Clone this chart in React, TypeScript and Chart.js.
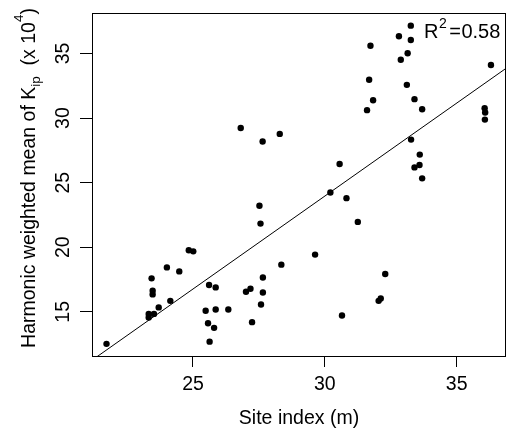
import React, { useEffect, useRef } from "react";
import { Chart, registerables } from "chart.js";

Chart.register(...registerables);

const siteIndex = [
  26.81, 27.64, 28.29, 33.26, 32.81, 33.26, 31.73, 33.14, 32.88, 36.3,
  31.68, 33.11, 31.83, 33.4, 31.6, 33.69, 36.06, 36.08, 36.07, 33.27,
  33.6, 33.59, 33.4, 33.69, 30.56, 21.72, 27.52, 27.56, 24.84, 25.01,
  28.35, 24.01, 24.48, 23.43, 27.65, 25.61, 25.86, 27.01, 27.18, 23.47,
  23.47, 27.65, 24.14, 23.7, 25.48, 25.86, 26.34, 27.58, 23.32, 23.52,
  23.32, 25.57, 27.24, 25.8, 25.63, 30.21, 30.82, 31.25, 29.63, 32.29,
  32.12, 32.04, 30.65,
];
const kipMean = [
  29.23, 28.18, 28.77, 37.15, 36.33, 36.04, 35.6, 35.01, 34.51, 34.1,
  32.96, 32.57, 31.38, 31.46, 30.61, 30.68, 30.76, 30.43, 29.88, 28.33,
  27.17, 26.36, 26.18, 25.33, 26.44, 12.52, 23.21, 21.83, 19.76, 19.68,
  18.65, 18.44, 18.13, 17.59, 17.66, 17.07, 16.89, 16.55, 16.79, 16.63,
  16.35, 16.5, 15.85, 15.34, 15.08, 15.18, 15.18, 15.57, 14.84, 14.84,
  14.56, 14.12, 14.2, 13.76, 12.69, 24.24, 23.8, 21.96, 19.43, 17.93,
  16.03, 15.85, 14.71,
];
const xTickValues = [25, 30, 35];
const yTickValues = [15, 20, 25, 30, 35];
const fitIntercept = -19.21;
const fitSlope = 1.439;
const rSquaredValue = "0.58";
const xAxisTitle = "Site index (m)";
const yTitleMain = "Harmonic weighted mean of K";
const yTitleSub = "ip";
const yTitleMid = "  (x 10";
const yTitleSup = "4";
const yTitleEnd = ")";

const FONT = "'Liberation Sans', Arial, sans-serif";
const FS = 19.5;

export default function App() {
  const ref = useRef<HTMLCanvasElement>(null);

  useEffect(() => {
    document.body.style.margin = "0";
    const canvas = ref.current;
    if (!canvas) return;
    const xMin = 21.17, xMax = 36.87, yMin = 11.58, yMax = 38.13;
    const points = siteIndex.map((x, i) => ({ x, y: kipMean[i] }));
    const fitLine = [xMin, xMax].map((x) => ({ x, y: fitIntercept + fitSlope * x }));

    const overlay = {
      id: "overlay",
      afterDraw(chart: any) {
        const { ctx, chartArea: a } = chart;
        ctx.save();
        ctx.strokeStyle = "#000";
        ctx.lineWidth = 1;
        ctx.strokeRect(Math.round(a.left) + 0.5, Math.round(a.top) + 0.5,
          Math.round(a.right - a.left) - 1, Math.round(a.bottom - a.top));
        ctx.fillStyle = "#000";

        // y-axis title with subscript and superscript
        const big = FS, small = 13.5;
        const parts = [
          { t: yTitleMain, s: big, dy: 0 },
          { t: yTitleSub, s: small, dy: 5 },
          { t: yTitleMid, s: big, dy: 0 },
          { t: yTitleSup, s: small, dy: -12 },
          { t: yTitleEnd, s: big, dy: 0 },
        ];
        let total = 0;
        for (const p of parts) {
          ctx.font = `${p.s}px ${FONT}`;
          total += ctx.measureText(p.t).width;
        }
        ctx.translate(35, 178);
        ctx.rotate(-Math.PI / 2);
        ctx.textBaseline = "alphabetic";
        ctx.textAlign = "left";
        let x = -total / 2;
        for (const p of parts) {
          ctx.font = `${p.s}px ${FONT}`;
          ctx.fillText(p.t, x, p.dy);
          x += ctx.measureText(p.t).width;
        }
        ctx.restore();

        // R^2 annotation
        ctx.save();
        ctx.fillStyle = "#000";
        ctx.textBaseline = "alphabetic";
        ctx.textAlign = "left";
        const rs = 20;
        let rx = 424;
        ctx.font = `${rs}px ${FONT}`;
        ctx.fillText("R", rx, 38);
        rx += ctx.measureText("R").width + 0.5;
        ctx.font = `${14}px ${FONT}`;
        ctx.fillText("2", rx, 28);
        rx += ctx.measureText("2").width + 2.5;
        ctx.font = `${rs}px ${FONT}`;
        ctx.fillText("=", rx, 38);
        rx += ctx.measureText("=").width + 0.5;
        ctx.fillText(rSquaredValue, rx, 38);
        ctx.restore();
      },
    };

    const chart = new Chart(canvas, {
      type: "scatter",
      data: {
        datasets: [
          {
            data: fitLine,
            showLine: true,
            borderColor: "#000",
            borderWidth: 1,
            pointRadius: 0,
            fill: false,
          },
          {
            data: points,
            backgroundColor: "#000",
            borderWidth: 0,
            pointRadius: 3.2,
          },
        ],
      },
      options: {
        animation: false,
        responsive: false,
        events: [],
        layout: { padding: { top: 13, right: 4, left: 0, bottom: 0 } },
        plugins: { legend: { display: false }, tooltip: { enabled: false } },
        scales: {
          x: {
            type: "linear",
            min: xMin,
            max: xMax,
            afterFit: (s: any) => {
              s.height = 73;
              s.paddingLeft = 0; s.paddingRight = 0; s.paddingTop = 0; s.paddingBottom = 0;
            },
            afterBuildTicks: (s: any) => { s.ticks = xTickValues.map((v) => ({ value: v })); },
            border: { display: false },
            grid: { display: true, drawOnChartArea: false, drawTicks: true, tickLength: 11, tickColor: "#000", color: "#000", lineWidth: 1 },
            ticks: { color: "#000", font: { family: FONT, size: FS }, padding: 6, maxRotation: 0, minRotation: 0 },
            title: { display: true, text: xAxisTitle, color: "#000", font: { family: FONT, size: FS }, padding: { top: 0, bottom: -1 } },
          },
          y: {
            type: "linear",
            min: yMin,
            max: yMax,
            afterFit: (s: any) => {
              s.width = 92;
              s.paddingLeft = 0; s.paddingRight = 0; s.paddingTop = 0; s.paddingBottom = 0;
            },
            afterBuildTicks: (s: any) => { s.ticks = yTickValues.map((v) => ({ value: v })); },
            border: { display: false },
            grid: { display: true, drawOnChartArea: false, drawTicks: true, tickLength: 12, tickColor: "#000", color: "#000", lineWidth: 1 },
            ticks: { color: "#000", font: { family: FONT, size: FS }, padding: 6, minRotation: 90, maxRotation: 90, crossAlign: "center" },
          },
        },
      },
      plugins: [overlay],
    });
    return () => chart.destroy();
  }, []);

  return (
    <div style={{ width: 510, height: 429 }}>
      <canvas ref={ref} width={510} height={429} />
    </div>
  );
}
